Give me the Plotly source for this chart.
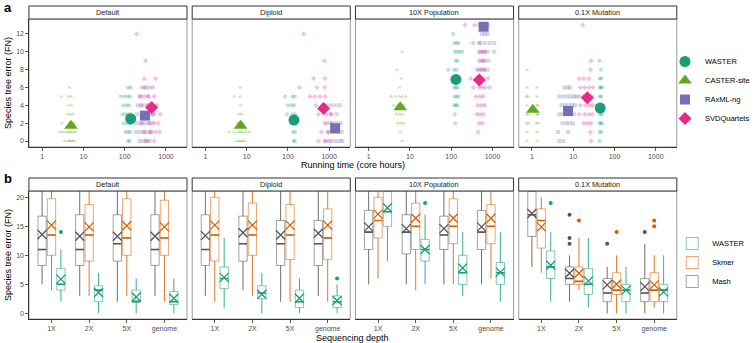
import plotly.graph_objects as go

W, H = 755, 343
FONT = "Liberation Sans, Arial, sans-serif"

FACETS = ["Default", "Diploid", "10X Population", "0.1X Mutation"]
DEPTHS = ["1X", "2X", "5X", "genome"]
TIME_TICKS = [1, 10, 100, 1000]
FN_TICKS_A = [0, 2, 4, 6, 8, 10, 12]
FN_TICKS_B = [0, 5, 10, 15, 20]

# ---------------- panel a : (FN, [running times]) rows per facet ----------------
caster_default = [(0, [3.5, 4.2, 4.6, 5.0, 5.5, 6.0]), (1, [2.8, 3.3, 4.0, 4.5, 5.0, 5.8, 6.5]),
                  (2, [3.0, 4.6, 5.3, 6.0]), (3, [4.2, 4.8, 5.6]), (4, [4.4, 5.2]),
                  (5, [2.9, 4.3, 5.0]), (6, [4.6])]
waster_default = [(0, [120, 132]), (1, [105, 122, 135]), (2, [95, 115, 130, 140]),
                  (3, [88, 105, 122, 140]), (4, [92, 112, 128]), (5, [80, 98, 118, 135]), (6, [122, 140])]
raxml_default = [(0, [230, 280, 340, 400]), (1, [190, 240, 300, 380, 450]), (2, [180, 230, 290, 360, 450]),
                 (3, [200, 260, 330, 420, 520]), (4, [210, 270, 340, 430]), (5, [230, 290, 360]),
                 (6, [260, 330, 400])]
svd_default = [(0, [330, 520]), (1, [300, 420, 560, 700]), (2, [260, 400, 520, 650]), (3, [480, 720]),
               (4, [250, 380, 470, 600]), (5, [240, 380, 520]), (6, [300, 480]), (7, [300, 560]),
               (9, [320]), (12, [195])]

caster_diploid = [(0, [5.5, 6.5, 7.2, 8.0, 9.0]), (1, [3.8, 5.0, 6.2, 7.0, 8.0, 9.5, 11.5]),
                  (2, [6.0, 7.2, 8.2]), (3, [6.5, 7.5]), (4, [7.0]), (5, [5.0, 7.0]), (6, [7.0])]
waster_diploid = [(0, [138, 148]), (1, [132, 150]), (2, [120, 148]), (3, [95, 128, 150]),
                  (4, [100, 122, 142]), (5, [85, 128, 145]), (6, [190])]
raxml_diploid = [(0, [850, 1150, 1450, 1800, 2100]), (1, [950, 1250, 1600, 2000]),
                 (2, [900, 1200, 1500, 1900]), (3, [1100, 1500]), (4, [1400, 1800])]
svd_diploid = [(0, [550, 780, 1000]), (1, [650, 950]), (2, [780, 1100]), (3, [550, 850, 1100]),
               (4, [480, 680, 880, 1100]), (5, [340, 450, 600, 800]), (6, [500, 780]), (7, [420, 780]),
               (9, [760]), (12, [240])]

caster_10x = [(0, [6.5]), (1, [5.8]), (2, [5.0, 6.0, 7.0]), (3, [4.6, 5.6, 6.6]), (4, [4.0, 5.0, 6.0, 7.2]),
              (5, [3.5, 4.5, 5.5, 6.5, 8.0]), (6, [5.6]), (7, [6.2]), (8, [4.8]), (10, [6.5])]
waster_10x = [(2, [125]), (3, [122]), (4, [118, 130, 140]), (5, [122, 135, 150]), (6, [118, 130, 145]),
              (7, [112, 125, 142]), (8, [85, 118, 135]), (9, [128, 142]), (10, [122, 140, 160, 185]),
              (11, [118, 135, 150]), (12, [112])]
raxml_10x = [(6, [850]), (7, [780]), (8, [480, 620, 760]), (9, [540, 650, 800]), (10, [520, 640, 760, 1100]),
             (11, [480, 650, 850, 1100]), (12, [550, 650, 760]), (13, [480, 560, 680, 780])]
svd_10x = [(1, [450]), (2, [470, 560]), (3, [420, 500, 600]), (4, [440, 540, 650]), (5, [400, 500, 600]),
           (6, [340, 470, 560, 660]), (7, [300, 440, 600]), (8, [420, 520, 620]), (9, [480, 600]),
           (10, [470, 560, 650]), (11, [340, 500]), (13, [215, 370])]

caster_01x = [(0, [0.76, 1.36]), (1, [0.76, 1.32]), (2, [0.74, 0.82, 1.3, 1.42]), (3, [0.74, 0.82, 1.3, 1.42]),
              (4, [0.76, 1.3, 1.4]), (5, [0.74, 0.8, 1.34]), (6, [0.76, 1.32]), (8, [0.76])]
waster_01x = [(0, [44]), (1, [44, 48]), (2, [43, 47, 50]), (3, [45, 49]), (4, [43, 46, 50]), (5, [44, 48]),
              (6, [43, 47, 50]), (7, [44, 48]), (8, [47]), (9, [43])]
raxml_01x = [(0, [4.6, 5.8]), (1, [4.3, 7.5]), (2, [5.5, 6.8, 8.2, 10]), (3, [4.6, 5.6, 6.8, 8.2, 10.5]),
             (4, [5.2, 6.4, 7.8, 9.4, 11]), (5, [4.6, 5.8, 7.2, 8.8, 10.5, 12]), (6, [6.2, 7.4, 8.4])]
svd_01x = [(0, [27]), (1, [26]), (2, [18, 22, 27]), (3, [14, 19, 24, 29]), (4, [15, 20, 25, 30]),
           (5, [14, 18, 23, 28]), (6, [15, 19, 24, 30]), (7, [14, 18, 24]), (8, [26]), (9, [27]), (13, [17])]

# mean running time / mean FN per facet (Default, Diploid, 10X, 0.1X)
waster_mean_t = [140, 140, 130, 45]
waster_mean_fn = [2.5, 2.35, 6.9, 3.7]
caster_mean_t = [5.0, 7.1, 5.8, 1.05]
caster_mean_fn = [1.7, 1.7, 3.8, 3.5]
raxml_mean_t = [310, 1390, 610, 7.5]
raxml_mean_fn = [2.85, 1.42, 12.8, 3.36]
svd_mean_t = [450, 730, 480, 22]
svd_mean_fn = [3.77, 3.66, 6.85, 4.85]

# ---------------- panel b : box statistics [facet][depth] ----------------
mash_q1 = [[8.25, 8.25, 9, 8.25], [8.25, 9, 8.25, 8.25], [11, 10.25, 11, 11], [13.25, 5, 2, 2]]
mash_med = [[11, 11, 12, 11], [11, 12, 12, 12], [14, 14, 13.5, 14], [17, 6, 3.5, 3.5]]
mash_q3 = [[16.75, 17, 17, 17], [17, 16.75, 16, 16], [17.75, 17, 16.75, 17.75], [21, 8, 6, 6]]
mash_mean = [[13.6, 13.3, 13.3, 13.3], [13.4, 13.9, 13.5, 13.8], [14.9, 14.6, 14.6, 14.9], [17.2, 6.9, 4.9, 4.6]]
mash_lo = [[5, 3, 2, 3], [3, 4, 2, 3], [5, 5, 5, 5], [8, 2, 0, 0]]
mash_hi = [[24, 24, 24, 24], [24, 24, 24, 24], [24, 24, 24, 24], [24, 10, 8, 12]]
mash_out = [[[], [], [], []], [[], [], [], []], [[], [], [], []], [[], [17, 13, 12], [12], [14]]]

skmer_q1 = [[10, 9, 10, 10], [9, 10, 9.25, 9.25], [13, 11, 12, 12], [11.25, 5, 3.25, 2]]
skmer_med = [[13.5, 13.5, 13, 13], [13.5, 13.5, 13.5, 13], [16, 15, 15, 15], [16, 5.5, 4, 4]]
skmer_q3 = [[19.75, 18.75, 19.75, 19.5], [20, 19, 18.75, 18], [20, 19, 19.75, 18.75], [18, 8, 7, 7]]
skmer_mean = [[15.2, 14.9, 15.1, 14.9], [15.2, 15.2, 15.2, 15.2], [17.1, 16.4, 16.4, 16.4], [14.9, 6.9, 5.0, 4.9]]
skmer_lo = [[4, 3, 3, 2], [2, 3, 2, 2], [6, 4, 5, 6], [7, 4, 0, 1]]
skmer_hi = [[24, 24, 24, 24], [24, 24, 24, 24], [24, 24, 24, 24], [20, 13, 10, 10]]
skmer_out = [[[], [], [], []], [[], [], [], []], [[], [], [], []], [[], [16], [14], [16, 15]]]

waster_q1 = [[4, 2, 2, 1.5], [4.25, 2.5, 1, 1], [15, 9, 5, 5], [6, 3.25, 2, 2]]
waster_med = [[5, 4, 2, 2], [6, 3.5, 2, 2], [17.5, 11, 7, 7], [8, 5, 4, 4]]
waster_q3 = [[7.75, 4.75, 4, 3.75], [8, 4.75, 4, 3], [21, 12.75, 10, 8.75], [10.75, 7.75, 5, 5]]
waster_mean = [[5.9, 3.6, 2.8, 2.6], [6.2, 3.3, 2.6, 2.2], [18.2, 11, 7.8, 7.1], [8.3, 5.6, 4.0, 3.7]]
waster_lo = [[2, 0, 0, 0], [1, 0, 0, 0], [9, 5, 3, 2], [2, 1, 0, 0]]
waster_hi = [[11, 7, 6, 6], [13, 7, 6, 5], [24, 17, 14, 14], [14, 13, 8, 10]]
waster_out = [[[14], [], [], []], [[], [], [], [6]], [[], [19], [], []], [[19], [], [], []]]

# ---------------- styling ----------------
C_WASTER, C_CASTER, C_RAXML, C_SVD = "#1B9E77", "#66A61E", "#7570B3", "#E7298A"
C_SKMER, C_MASH = "#D95F02", "#555555"

FACET_L = [29, 192.7, 356.4, 520.1]
FACET_W = 158.5
A_TOP, A_BOT = 19, 147
B_TOP, B_BOT = 191, 319
STRIP_H = 13


def rgba(hexc, a):
    h = hexc.lstrip("#")
    return "rgba(%d,%d,%d,%.2f)" % (int(h[0:2], 16), int(h[2:4], 16), int(h[4:6], 16), a)


def expand(rows):
    xs, ys = [], []
    for fn, times in rows:
        for t in times:
            xs.append(t)
            ys.append(fn)
    return xs, ys


fig = go.Figure()


def axname(n):
    return ("x" if n == 1 else "x%d" % n), ("y" if n == 1 else "y%d" % n)


# ---- panel a traces ----
a_methods = [
    ("WASTER", C_WASTER, "circle", 11, [waster_default, waster_diploid, waster_10x, waster_01x], waster_mean_t, waster_mean_fn),
    ("CASTER-site", C_CASTER, "triangle-up", 12, [caster_default, caster_diploid, caster_10x, caster_01x], caster_mean_t, caster_mean_fn),
    ("RAxML-ng", C_RAXML, "square", 10, [raxml_default, raxml_diploid, raxml_10x, raxml_01x], raxml_mean_t, raxml_mean_fn),
    ("SVDQuartets", C_SVD, "diamond", 10, [svd_default, svd_diploid, svd_10x, svd_01x], svd_mean_t, svd_mean_fn),
]
for name, col, sym, big, rows_list, mt, mf in a_methods:
    for f in range(4):
        xa, ya = axname(f + 1)
        xs, ys = expand(rows_list[f])
        fig.add_trace(go.Scatter(x=xs, y=ys, mode="markers", xaxis=xa, yaxis=ya,
                                 marker=dict(symbol=sym, size=4, color=col, opacity=0.3),
                                 showlegend=False, hoverinfo="skip"))
for rank, (name, col, sym, big, rows_list, mt, mf) in enumerate(a_methods):
    for f in range(4):
        xa, ya = axname(f + 1)
        fig.add_trace(go.Scatter(x=[mt[f]], y=[mf[f]], mode="markers", xaxis=xa, yaxis=ya,
                                 marker=dict(symbol=sym, size=big, color=col),
                                 name=name, legendgroup=name, showlegend=(f == 0),
                                 legend="legend", legendrank=rank + 1, hoverinfo="skip"))

# ---- panel b traces ----
BW = 0.22
b_methods = [
    ("Mash", C_MASH, -0.25, mash_q1, mash_med, mash_q3, mash_mean, mash_lo, mash_hi, mash_out, 3),
    ("Skmer", C_SKMER, 0.0, skmer_q1, skmer_med, skmer_q3, skmer_mean, skmer_lo, skmer_hi, skmer_out, 2),
    ("WASTER", C_WASTER, 0.25, waster_q1, waster_med, waster_q3, waster_mean, waster_lo, waster_hi, waster_out, 1),
]
for name, col, off, q1, med, q3, mean, lo, hi, outl, rank in b_methods:
    for f in range(4):
        xa, ya = axname(f + 5)
        pos = [i + 1 + off for i in range(len(DEPTHS))]
        fig.add_trace(go.Box(x=pos, q1=q1[f], median=med[f], q3=q3[f], lowerfence=q1[f], upperfence=q3[f],
                             width=BW, whiskerwidth=0, boxpoints=False, fillcolor="white",
                             line=dict(color=rgba(col, 0.55), width=1), xaxis=xa, yaxis=ya,
                             name=name, legendgroup="b" + name, showlegend=(f == 0),
                             legend="legend2", legendrank=rank, hoverinfo="skip"))
        wx, wy, mx, my = [], [], [], []
        for i, p in enumerate(pos):
            wx += [p, p, None, p, p, None]
            wy += [lo[f][i], q1[f][i], None, q3[f][i], hi[f][i], None]
            mx += [p - BW / 2, p + BW / 2, None]
            my += [med[f][i], med[f][i], None]
        fig.add_trace(go.Scatter(x=wx, y=wy, mode="lines", line=dict(color=rgba(col, 0.85), width=1),
                                 xaxis=xa, yaxis=ya, showlegend=False, hoverinfo="skip"))
        fig.add_trace(go.Scatter(x=mx, y=my, mode="lines", line=dict(color=col, width=1.6),
                                 xaxis=xa, yaxis=ya, showlegend=False, hoverinfo="skip"))
        fig.add_trace(go.Scatter(x=pos, y=mean[f], mode="markers", xaxis=xa, yaxis=ya,
                                 marker=dict(symbol="x-thin", size=9, line=dict(color=col, width=1.3)),
                                 showlegend=False, hoverinfo="skip"))
        ox, oy = [], []
        for i, p in enumerate(pos):
            for v in outl[f][i]:
                ox.append(p)
                oy.append(v)
        if ox:
            fig.add_trace(go.Scatter(x=ox, y=oy, mode="markers", xaxis=xa, yaxis=ya,
                                     marker=dict(symbol="circle", size=4, color=col),
                                     showlegend=False, hoverinfo="skip"))

# ---- axes, borders, strips ----
tickfont = dict(family=FONT, size=7, color="#4D4D4D")
layout = {}
shapes = []
annotations = []
for n in range(1, 9):
    f = (n - 1) % 4
    top, bot = (A_TOP, A_BOT) if n <= 4 else (B_TOP, B_BOT)
    xa, ya = axname(n)
    xkey = "xaxis" if n == 1 else "xaxis%d" % n
    ykey = "yaxis" if n == 1 else "yaxis%d" % n
    xd = [FACET_L[f] / W, (FACET_L[f] + FACET_W) / W]
    yd = [1 - bot / H, 1 - top / H]
    if n <= 4:
        layout[xkey] = dict(domain=xd, anchor=ya, type="log", range=[-0.32, 3.51],
                            tickvals=TIME_TICKS, ticktext=[str(t) for t in TIME_TICKS])
        layout[ykey] = dict(domain=yd, anchor=xa, range=[-0.67, 13.68], tickvals=FN_TICKS_A)
    else:
        layout[xkey] = dict(domain=xd, anchor=ya, range=[0.4, 4.6],
                            tickvals=[1, 2, 3, 4], ticktext=DEPTHS)
        layout[ykey] = dict(domain=yd, anchor=xa, range=[-0.98, 21.09], tickvals=FN_TICKS_B)
    layout[xkey].update(showgrid=False, zeroline=False, showline=True, linecolor="#333333", linewidth=1,
                        ticks="outside", ticklen=2.5, tickcolor="#333333", tickwidth=0.8,
                        tickfont=tickfont, fixedrange=True)
    first = f == 0
    layout[ykey].update(showgrid=False, zeroline=False, showline=first, linecolor="#333333", linewidth=1,
                        ticks="outside" if first else "", ticklen=2.5, tickcolor="#333333", tickwidth=0.8,
                        showticklabels=first, tickfont=tickfont, fixedrange=True)
    xr = xa + " domain"
    yr = ya + " domain"
    ph = bot - top
    shapes.append(dict(type="rect", xref=xr, yref=yr, x0=0, x1=1, y0=0, y1=1,
                       line=dict(color="#9A9A9A", width=1), layer="below"))
    shapes.append(dict(type="rect", xref=xr, yref=yr, x0=0, x1=1, y0=1, y1=1 + STRIP_H / ph,
                       line=dict(color="#333333", width=1), fillcolor="white", layer="above"))
    annotations.append(dict(text=FACETS[f], xref=xr, yref=yr, x=0.5, y=1 + STRIP_H / 2 / ph,
                            showarrow=False, xanchor="center", yanchor="middle",
                            font=dict(family=FONT, size=7.3, color="#1A1A1A")))

mid_x = (FACET_L[0] + FACET_L[3] + FACET_W) / 2 / W
title_font = dict(family=FONT, size=9, color="black")
annotations += [
    dict(text="Running time (core hours)", xref="paper", yref="paper", x=mid_x, y=1 - 164.5 / H,
         showarrow=False, xanchor="center", yanchor="middle", font=title_font),
    dict(text="Sequencing depth", xref="paper", yref="paper", x=mid_x, y=1 - 337.5 / H,
         showarrow=False, xanchor="center", yanchor="middle", font=title_font),
    dict(text="Species tree error (FN)", xref="paper", yref="paper", x=8 / W, y=1 - (A_TOP + A_BOT) / 2 / H,
         showarrow=False, textangle=-90, xanchor="center", yanchor="middle", font=title_font),
    dict(text="Species tree error (FN)", xref="paper", yref="paper", x=8 / W, y=1 - (B_TOP + B_BOT) / 2 / H,
         showarrow=False, textangle=-90, xanchor="center", yanchor="middle", font=title_font),
    dict(text="<b>a</b>", xref="paper", yref="paper", x=2 / W, y=1 - 7 / H, showarrow=False,
         xanchor="left", yanchor="middle", font=dict(family=FONT, size=13, color="black")),
    dict(text="<b>b</b>", xref="paper", yref="paper", x=2 / W, y=1 - 178 / H, showarrow=False,
         xanchor="left", yanchor="middle", font=dict(family=FONT, size=13, color="black")),
]

fig.update_layout(
    width=W, height=H, autosize=False,
    margin=dict(l=0, r=0, t=0, b=0),
    paper_bgcolor="white", plot_bgcolor="white",
    font=dict(family=FONT, size=7.5, color="black"),
    shapes=shapes, annotations=annotations,
    legend=dict(x=667 / W, y=1 - 47 / H, xanchor="left", yanchor="top", bgcolor="rgba(0,0,0,0)",
                font=dict(family=FONT, size=7.5, color="black"), itemwidth=30, tracegroupgap=0,
                itemclick=False, itemdoubleclick=False),
    legend2=dict(x=674 / W, y=1 - 229 / H, xanchor="left", yanchor="top", bgcolor="rgba(0,0,0,0)",
                 font=dict(family=FONT, size=7.5, color="black"), itemwidth=30, tracegroupgap=0,
                 itemclick=False, itemdoubleclick=False),
    **layout,
)

fig.write_html("out.html", config={"displayModeBar": False, "staticPlot": True},
               post_script="document.body.style.margin='0';document.body.style.overflow='hidden';")
